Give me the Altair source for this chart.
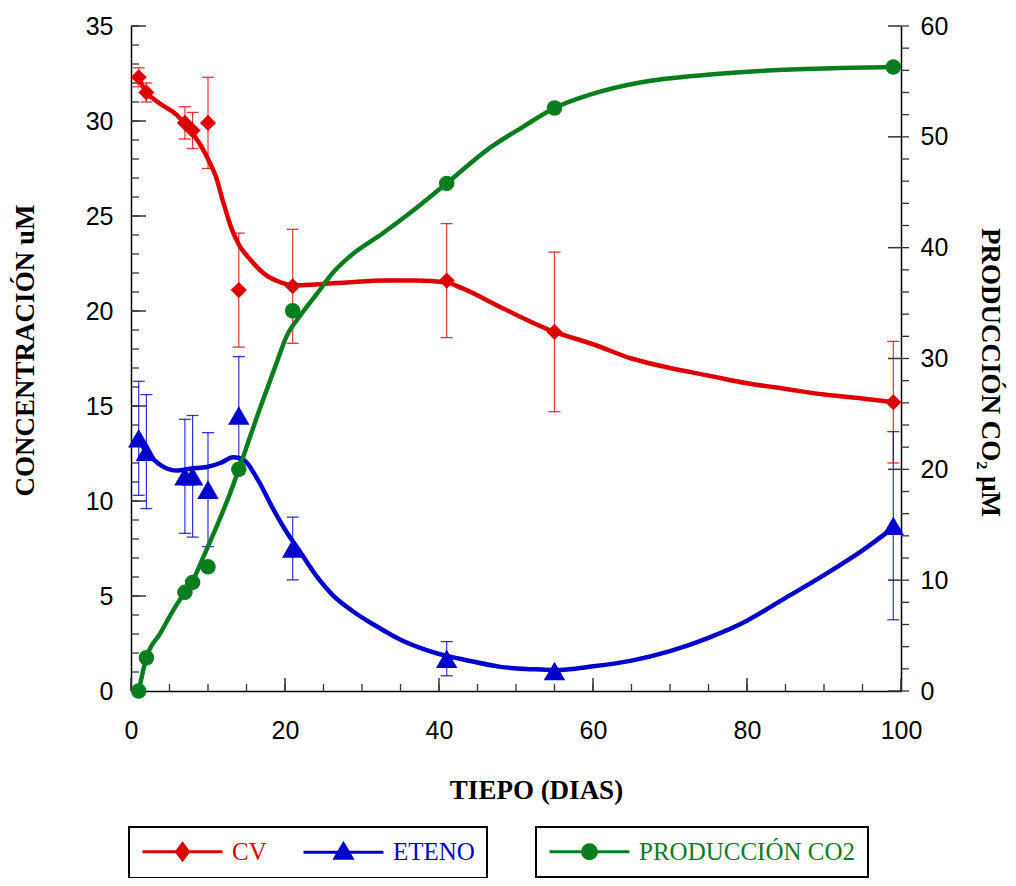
import altair as alt
import pandas as pd

# ---------------- data ----------------
days = [1, 2, 7, 8, 10, 14, 21, 41, 55, 99]

cv = [32.3, 31.5, 29.9, 29.5, 29.9, 21.1, 21.3, 21.6, 18.9, 15.2]
cv_err = [0.5, 0.5, 0.85, 0.95, 2.4, 3.0, 3.0, 3.0, 4.2, 3.2]

eteno = [13.3, 12.6, 11.3, 11.3, 10.6, 14.5, 7.5, 1.7, 1.05, 8.7]
eteno_err = [3.0, 3.0, 3.0, 3.2, 3.0, 3.1, 1.65, 0.9, 0.0, 4.95]

co2 = [0.0, 3.0, 8.9, 9.8, 11.2, 20.0, 34.3, 45.8, 52.6, 56.3]

# smoothed trend curves
cv_fit_x = [1, 2, 3, 4, 5, 6, 7, 8, 9, 10, 11, 12, 13, 14, 15.5, 17.5, 19.5, 21, 24, 28,
            33, 37, 41, 43, 48, 55, 60, 65, 70, 75, 80, 85, 90, 95, 99]
cv_fit_y = [32.3, 31.5, 31.15, 30.85, 30.6, 30.3, 29.85, 29.35, 28.75, 28.0, 27.1, 25.7,
            24.4, 23.5, 22.7, 21.9, 21.5, 21.35, 21.4, 21.5, 21.6, 21.6, 21.5, 21.2, 20.2,
            18.9, 18.25, 17.5, 17.0, 16.6, 16.2, 15.9, 15.6, 15.4, 15.2]

eteno_fit_x = [1, 2, 4, 6, 7.7, 10, 11.6, 13.3, 14.5, 16.5, 18.3, 20, 22, 24, 26.2, 28.8,
               31.5, 35, 38.4, 41, 42.7, 48, 52, 55, 60, 65, 70, 75, 80, 85, 90, 95, 99]
eteno_fit_y = [13.2, 12.6, 11.85, 11.6, 11.7, 11.8, 12.0, 12.3, 12.2, 11.1, 9.7, 8.5, 7.3,
               6.1, 5.05, 4.2, 3.5, 2.7, 2.15, 1.84, 1.7, 1.27, 1.15, 1.1, 1.3, 1.6, 2.1,
               2.8, 3.7, 4.9, 6.1, 7.4, 8.6]

co2_fit_x = [1, 2, 3.8, 5.5, 7, 7.9, 9.4, 11.1, 12.9, 14, 16.8, 18.7, 20.2, 22, 24.1, 26.3,
             28.4, 32.7, 37.1, 41, 46.6, 50.9, 55, 59.6, 66.1, 74.8, 83.4, 92, 99]
co2_fit_y = [0.0, 3.0, 5.2, 7.3, 8.9, 9.8, 12.1, 14.8, 17.9, 20.0, 25.6, 29.2, 32.0, 33.9,
             35.8, 37.8, 39.2, 41.3, 43.6, 45.8, 49.0, 50.9, 52.6, 53.8, 54.9, 55.6, 56.0,
             56.2, 56.3]

series_left = ["CV", "ETENO"]
series_right = ["PRODUCCIÓN CO2"]

x_ticks = [0, 20, 40, 60, 80, 100]
x_minor = [0, 5, 10, 15, 20, 25, 30, 35, 40, 45, 50, 55, 60, 65, 70, 75, 80, 85, 90, 95, 100]
yl_ticks = [0, 5, 10, 15, 20, 25, 30, 35]
yl_minor = list(range(0, 36))
yr_ticks = [0, 10, 20, 30, 40, 50, 60]
yr_minor = list(range(0, 61, 2))

# ---------------- styling ----------------
RED, BLUE, GREEN = "#dd0000", "#0000cc", "#0a7d1e"
SANS, SERIF = "Liberation Sans", "Liberation Serif"
W, H = 770, 665
TICK = "#333333"
LW = 4.5

# ---------------- tables ----------------
pts_left = pd.DataFrame({
    "dia": days * 2,
    "valor": cv + eteno,
    "err": cv_err + eteno_err,
    "serie": ["CV"] * len(days) + ["ETENO"] * len(days),
})
pts_left["lo"] = pts_left["valor"] - pts_left["err"]
pts_left["hi"] = pts_left["valor"] + pts_left["err"]

fit_left = pd.DataFrame({
    "dia": cv_fit_x + eteno_fit_x,
    "valor": cv_fit_y + eteno_fit_y,
    "serie": ["CV"] * len(cv_fit_x) + ["ETENO"] * len(eteno_fit_x),
})
pts_right = pd.DataFrame({"dia": days, "valor": co2, "serie": series_right * len(days)})
fit_right = pd.DataFrame({"dia": co2_fit_x, "valor": co2_fit_y,
                          "serie": series_right * len(co2_fit_x)})

# ---------------- scales / axes ----------------
x_scale = alt.Scale(domain=[0, 100], nice=False, zero=False)
yl_scale = alt.Scale(domain=[0, 35], nice=False)
yr_scale = alt.Scale(domain=[0, 60], nice=False)

common_axis = dict(ticks=False, tickSize=0, grid=False, labelFlush=False, labelOverlap=False,
                   labelFont=SANS, labelFontSize=25, labelColor="black",
                   domainColor="black", domainWidth=1.5,
                   titleFont=SERIF, titleFontSize=27, titleFontWeight="bold",
                   titleColor="black", titleBaseline="middle", titleAlign="center")

x_axis = alt.Axis(values=x_ticks, title="TIEPO (DIAS)", labelPadding=27,
                  titleX=405, titleY=99, **common_axis)
yl_axis = alt.Axis(values=yl_ticks, title="CONCENTRACIÓN uM", orient="left", labelPadding=18,
                   titleX=-106, titleY=324, titleAngle=270, **common_axis)
yr_axis = alt.Axis(values=yr_ticks, title="PRODUCCIÓN CO₂  µM", orient="right", labelPadding=19,
                   titleX=88, titleY=346, titleAngle=90, **common_axis)


def X(field):
    return alt.X(f"{field}:Q", scale=x_scale, axis=x_axis)


def YL(field):
    return alt.Y(f"{field}:Q", scale=yl_scale, axis=yl_axis)


def YR(field):
    return alt.Y(f"{field}:Q", scale=yr_scale, axis=yr_axis)


color_left = alt.Scale(domain=series_left, range=[RED, BLUE])
color_right = alt.Scale(domain=series_right, range=[GREEN])

# legend symbols: a line with a marker (nested outlines to look filled)
CX = 2.9


def diamond(s):
    return (f"M{CX},{-0.8*s:.3f}L{CX+0.6*s:.3f},0L{CX},{0.8*s:.3f}L{CX-0.6*s:.3f},0Z")


def triangle(s):
    cy = 0.12
    return (f"M{CX},{cy-0.97*s:.3f}L{CX+0.85*s:.3f},{cy+0.48*s:.3f}"
            f"L{CX-0.85*s:.3f},{cy+0.48*s:.3f}Z")


def circle(r):
    return (f"M{CX-r:.3f},0A{r},{r} 0 1,0 {CX+r:.3f},0A{r},{r} 0 1,0 {CX-r:.3f},0Z")


LINE = "M-1.1,0L6.9,0"
sym_cv = LINE + diamond(1) + diamond(0.6) + diamond(0.25)
sym_et = LINE + triangle(1) + triangle(0.6) + triangle(0.25)
sym_co2 = LINE + circle(0.7) + circle(0.4) + circle(0.12)

leg_common = dict(title=None, orient="none", direction="horizontal", columns=2,
                  symbolSize=400, symbolStrokeWidth=3, symbolOpacity=1,
                  labelFont=SERIF, labelFontSize=25, labelOffset=66, labelLimit=400,
                  padding=12, fillColor="white", strokeColor="black",
                  columnPadding=30, legendY=801)

legend_left = alt.Legend(
    legendX=-2,
    symbolType={"expr": f"datum.label === 'CV' ? '{sym_cv}' : '{sym_et}'"},
    labelColor={"expr": f"datum.label === 'CV' ? '{RED}' : '{BLUE}'"},
    **leg_common)
legend_right = alt.Legend(legendX=405, symbolType=sym_co2, labelColor=GREEN, **leg_common)

# ---------------- left (concentration) layers ----------------
line_left = alt.Chart(fit_left).mark_line(strokeWidth=LW, interpolate="monotone").encode(
    x=X("dia"), y=YL("valor"),
    color=alt.Color("serie:N", scale=color_left, legend=legend_left))

base_err = alt.Chart(pts_left).transform_filter("datum.err > 0")
err_rules = base_err.mark_rule(strokeWidth=1.2, opacity=0.8).encode(
    x=X("dia"), y=YL("lo"), y2="hi:Q",
    color=alt.Color("serie:N", scale=color_left, legend=None))
cap_lo = base_err.mark_tick(orient="horizontal", size=12, thickness=1.3, opacity=0.8).encode(
    x=X("dia"), y=YL("lo"), color=alt.Color("serie:N", scale=color_left, legend=None))
cap_hi = base_err.mark_tick(orient="horizontal", size=12, thickness=1.3, opacity=0.8).encode(
    x=X("dia"), y=YL("hi"), color=alt.Color("serie:N", scale=color_left, legend=None))

pts_cv = alt.Chart(pts_left).transform_filter("datum.serie === 'CV'").mark_point(
    filled=True, opacity=1, shape="diamond", size=260, color=RED).encode(
    x=X("dia"), y=YL("valor"))
pts_et = alt.Chart(pts_left).transform_filter("datum.serie === 'ETENO'").mark_point(
    filled=True, opacity=1, shape="triangle-up", size=460, color=BLUE).encode(
    x=X("dia"), y=YL("valor"))

# inward ticks of the left and bottom axes
tick_yl_major = alt.Chart(pd.DataFrame({"v": yl_ticks})).mark_rule(
    color=TICK, strokeWidth=1.5).encode(y=YL("v"), x=alt.value(0), x2=alt.value(15))
tick_yl_minor = alt.Chart(pd.DataFrame({"v": yl_minor})).mark_rule(
    color=TICK, strokeWidth=1.3).encode(y=YL("v"), x=alt.value(0), x2=alt.value(8))
tick_x_major = alt.Chart(pd.DataFrame({"v": x_ticks})).mark_rule(
    color=TICK, strokeWidth=1.5).encode(x=X("v"), y=alt.value(H), y2=alt.value(H - 13))
tick_x_minor = alt.Chart(pd.DataFrame({"v": x_minor})).mark_rule(
    color=TICK, strokeWidth=1.3).encode(x=X("v"), y=alt.value(H), y2=alt.value(H - 7))

left = alt.layer(line_left, tick_yl_minor, tick_yl_major, tick_x_minor, tick_x_major,
                 err_rules, cap_lo, cap_hi, pts_cv, pts_et)

# ---------------- right (CO2) layers ----------------
line_right = alt.Chart(fit_right).mark_line(strokeWidth=LW, interpolate="monotone").encode(
    x=X("dia"), y=YR("valor"),
    color=alt.Color("serie:N", scale=color_right, legend=legend_right))
pts_right_mark = alt.Chart(pts_right).mark_circle(size=240, opacity=1, color=GREEN).encode(
    x=X("dia"), y=YR("valor"))

tick_yr_major = alt.Chart(pd.DataFrame({"v": yr_ticks})).mark_rule(
    color=TICK, strokeWidth=1.5).encode(y=YR("v"), x=alt.value(W), x2=alt.value(W - 13))
tick_yr_minor = alt.Chart(pd.DataFrame({"v": yr_minor})).mark_rule(
    color=TICK, strokeWidth=1.3).encode(y=YR("v"), x=alt.value(W), x2=alt.value(W + 8))

right = alt.layer(line_right, tick_yr_minor, tick_yr_major, pts_right_mark)

chart = alt.layer(left, right).resolve_scale(
    y="independent", color="independent"
).properties(
    width=W, height=H,
    padding={"left": 123, "top": 18, "right": 107, "bottom": 187},
    autosize=alt.AutoSizeParams(type="none"),
    background="white",
).configure_view(stroke=None).configure_legend(strokeWidth=2)

chart.save("out.html", embed_options={"renderer": "svg", "actions": False})
